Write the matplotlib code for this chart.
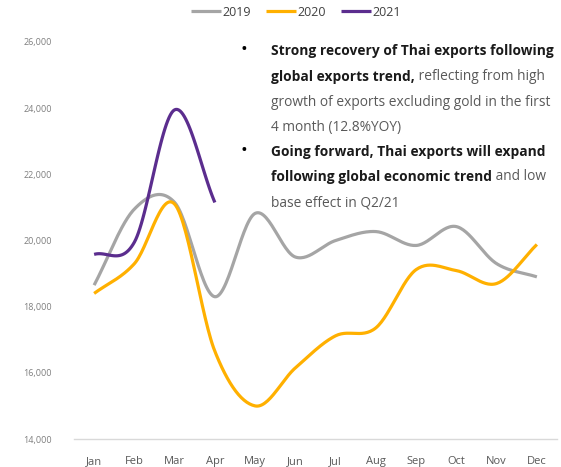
import numpy as np
import matplotlib
matplotlib.use('Agg')
import matplotlib.pyplot as plt

months = ['Jan', 'Feb', 'Mar', 'Apr', 'May', 'Jun', 'Jul', 'Aug', 'Sep', 'Oct', 'Nov', 'Dec']
exp_2019 = [18650, 20950, 21150, 18300, 20820, 19500, 20000, 20270, 19850, 20420, 19300, 18900]
exp_2020 = [18400, 19300, 21100, 16650, 15000, 16150, 17120, 17360, 19120, 19090, 18700, 19880]
exp_2021 = [19580, 19950, 23950, 21150]
y_ticks = [14000, 16000, 18000, 20000, 22000, 24000, 26000]

colors = {'2019': '#A5A5A5', '2020': '#FFB000', '2021': '#5B2D8E'}

plt.rcParams['font.family'] = ['Open Sans', 'DejaVu Sans']


def smooth(y, n=30):
    # catmull-rom style curve through the points (like excel "smoothed line")
    y = np.asarray(y, dtype=float)
    x = np.arange(len(y), dtype=float)
    px = np.concatenate([[2 * x[0] - x[1]], x, [2 * x[-1] - x[-2]]])
    py = np.concatenate([[2 * y[0] - y[1]], y, [2 * y[-1] - y[-2]]])
    xs, ys = [], []
    t = np.linspace(0, 1, n)
    for i in range(1, len(px) - 2):
        p0, p1, p2, p3 = py[i - 1], py[i], py[i + 1], py[i + 2]
        q0, q1, q2, q3 = px[i - 1], px[i], px[i + 1], px[i + 2]
        f = lambda a, b, c, d: 0.5 * ((2 * b) + (-a + c) * t + (2 * a - 5 * b + 4 * c - d) * t ** 2 + (-a + 3 * b - 3 * c + d) * t ** 3)
        xs.append(f(q0, q1, q2, q3))
        ys.append(f(p0, p1, p2, p3))
    return np.concatenate(xs), np.concatenate(ys)


fig = plt.figure(figsize=(5.61, 4.67), dpi=100, facecolor='white')
ax = fig.add_axes([74 / 561, 1 - 439 / 467, (557 - 74) / 561, (439 - 42) / 467])

for name, vals in [('2019', exp_2019), ('2020', exp_2020), ('2021', exp_2021)]:
    sx, sy = smooth(vals)
    ax.plot(sx, sy, color=colors[name], lw=2.3, label=name, solid_capstyle='butt')

ax.set_xlim(-0.5, 11.5)
ax.set_ylim(14000, 26000)
ax.set_xticks(range(len(months)))
ax.set_xticklabels(months, fontsize=8, color='#595959')
ax.set_yticks(y_ticks)
ax.set_yticklabels([f'{v:,}' for v in y_ticks], fontsize=6.5, color='#7F7F7F')
ax.tick_params(axis='both', length=0)
ax.tick_params(axis='x', pad=12)
ax.tick_params(axis='y', pad=16)
for s in ['top', 'right', 'left']:
    ax.spines[s].set_visible(False)
ax.spines['bottom'].set_color('#D9D9D9')
ax.spines['bottom'].set_linewidth(1)

leg = fig.legend(loc='center', bbox_to_anchor=(296 / 561, 1 - 12 / 467), ncol=3, frameon=False,
                 fontsize=9, handlelength=2.4, handletextpad=0.1, columnspacing=1.2)
for t in leg.get_texts():
    t.set_color('#404040')

# annotation text block
bold_c = '#1A1A1A'
reg_c = '#595959'
fs = 9.9
x0 = 271 / 561
bx = 244 / 561
lines = [
    [('Strong recovery of Thai exports following', 'bold')],
    [('global exports trend,', 'bold'), (' reflecting from high', 'normal')],
    [('growth of exports excluding gold in the first', 'normal')],
    [('4 month (12.8%YOY)', 'normal')],
    [('Going forward, Thai exports will expand', 'bold')],
    [('following global economic trend', 'bold'), (' and low', 'normal')],
    [('base effect in Q2/21', 'normal')],
]
ys = [51, 77, 102, 127, 152, 177, 203]
for ln, yp in zip(lines, ys):
    yf = 1 - yp / 467
    last = None
    for txt, w in ln:
        c = bold_c if w == 'bold' else reg_c
        if last is None:
            last = fig.text(x0, yf, txt, fontsize=fs, fontweight=w, color=c, va='center', ha='left')
        else:
            last = fig.add_artist(matplotlib.text.Annotation(
                txt, xy=(1, 0.5), xycoords=last, va='center', ha='left',
                fontsize=fs, fontweight=w, color=c, annotation_clip=False))
for yp in [50, 151]:
    fig.text(bx, 1 - yp / 467, '\u2022', fontsize=13, color='black', va='center', ha='center')

fig.savefig('out.png', dpi=100, facecolor='white')
